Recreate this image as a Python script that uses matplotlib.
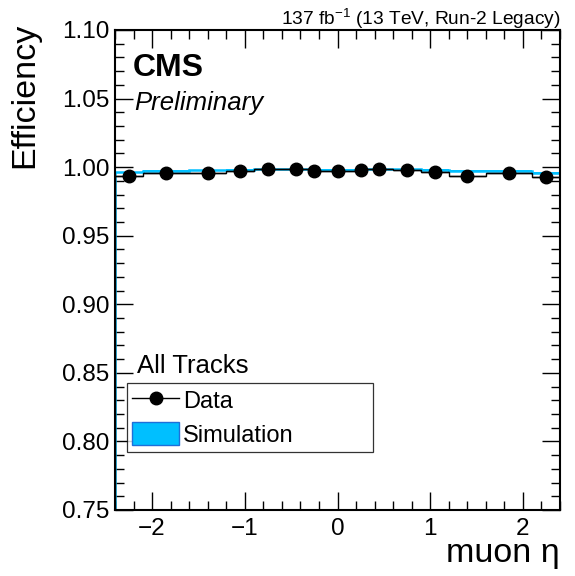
import numpy as np
import matplotlib
matplotlib.use("Agg")
import matplotlib.pyplot as plt
from matplotlib.ticker import MultipleLocator, FuncFormatter
from matplotlib.patches import Patch
from matplotlib.lines import Line2D

plt.rcParams['font.family'] = ['Liberation Sans', 'DejaVu Sans']

# Data
eta_edges = [-2.4, -2.1, -1.6, -1.2, -0.9, -0.6, -0.3, -0.2, 0.2, 0.3, 0.6, 0.9, 1.2, 1.6, 2.1, 2.4]
eff_data = [0.9934, 0.9958, 0.9954, 0.9971, 0.9983, 0.9983, 0.9975, 0.9973,
            0.9978, 0.9985, 0.9978, 0.9966, 0.9937, 0.9958, 0.9925]
eff_sim = [0.9962, 0.9974, 0.9978, 0.9982, 0.9985, 0.9985, 0.9982, 0.9982,
           0.9982, 0.9985, 0.9985, 0.9982, 0.9975, 0.9974, 0.9960]
sim_unc = 0.0003

edges = np.array(eta_edges)
centers = 0.5 * (edges[:-1] + edges[1:])
halfw = 0.5 * (edges[1:] - edges[:-1])
data = np.array(eff_data)
sim = np.array(eff_sim)

fig = plt.figure(figsize=(5.75, 5.76), dpi=100)
ax = fig.add_axes([115/575, 1 - 510/576, 445/575, 480/576])

sim_color = '#00BFFF'
# simulation band
ax.stairs(sim + sim_unc, edges, baseline=sim - sim_unc, fill=True,
          color=sim_color, lw=0, zorder=2)
ax.stairs(sim, edges, color=sim_color, lw=1.8, zorder=2)

# data
ax.stairs(data, edges, color='black', lw=1.0, zorder=3)
ax.errorbar(centers, data, xerr=halfw, yerr=0.0003, fmt='o', color='black',
            ms=9, lw=1.0, capsize=0, zorder=4)

ax.set_xlim(-2.4, 2.4)
ax.set_ylim(0.75, 1.10)
ax.xaxis.set_major_locator(MultipleLocator(1))
ax.xaxis.set_minor_locator(MultipleLocator(0.2))
ax.yaxis.set_major_locator(MultipleLocator(0.05))
ax.yaxis.set_minor_locator(MultipleLocator(0.01))
ax.tick_params(which='both', direction='in', top=True, right=True, width=1.0)
ax.tick_params(which='major', length=13, labelsize=17.5, pad=4)
ax.tick_params(which='minor', length=6.5)
ax.tick_params(axis='x', which='major', pad=6)
ax.yaxis.set_major_formatter(FuncFormatter(lambda v, p: f"{v:.2f}"))
ax.xaxis.set_major_formatter(FuncFormatter(
    lambda v, p: f"{int(round(v))}".replace('-', '\u2212')))
for s in ax.spines.values():
    s.set_linewidth(1.5)

ax.set_ylabel('Efficiency', fontsize=24.5, loc='top')
ax.yaxis.set_label_coords(-0.169, 1.015)
ax.set_xlabel('muon \u03b7', fontsize=24.5, loc='right', labelpad=-1.5)

fig.text(560/575, 1 - 25/576, r'137 fb$^{\mathregular{-1}}$ (13 TeV, Run-2 Legacy)',
         ha='right', va='baseline', fontsize=13.8)
ax.text(0.040, 0.921, 'CMS', transform=ax.transAxes, fontsize=23, fontweight='bold',
        va='center', ha='left')
ax.text(0.044, 0.848, 'Preliminary', transform=ax.transAxes, fontsize=18.5,
        style='italic', va='center', ha='left')
ax.text(0.049, 0.300, 'All Tracks', transform=ax.transAxes, fontsize=18.5,
        va='center', ha='left')

handles = [Line2D([0], [0], color='black', marker='o', ms=9, lw=1.0),
           Patch(facecolor=sim_color, edgecolor='#1E6FD9', lw=1.0)]
leg = ax.legend(handles, ['Data', 'Simulation'], loc='lower left',
                bbox_to_anchor=(0.027, 0.121, 0.553, 0.148), mode='expand',
                borderaxespad=0, fontsize=17, frameon=True, fancybox=False,
                edgecolor='black', handlelength=2.0, handleheight=1.1,
                labelspacing=0.4, borderpad=0.22, handletextpad=0.15)
leg.get_frame().set_linewidth(0.9)

fig.savefig('out.png', dpi=100)
